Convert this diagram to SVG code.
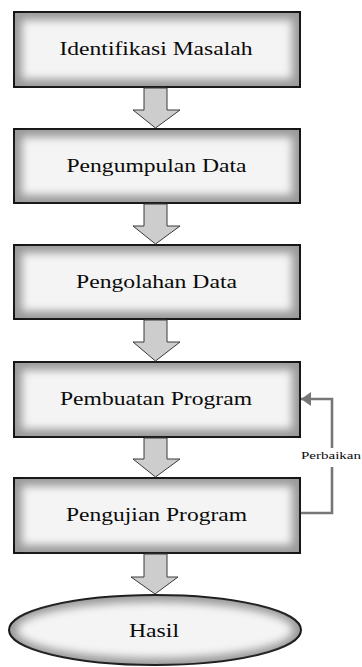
<svg xmlns="http://www.w3.org/2000/svg" width="362" height="667" viewBox="0 0 362 667">
  <defs>
    <filter id="soft" x="-10%" y="-30%" width="120%" height="160%">
      <feGaussianBlur stdDeviation="4.5"/>
    </filter>
    <marker id="tip" viewBox="0 0 10 14" refX="10" refY="7" markerWidth="10" markerHeight="14" markerUnits="userSpaceOnUse" orient="auto">
      <path d="M0,0 L10,7 L0,14 z" fill="#777"/>
    </marker>
  </defs>
  <style>
    .frame { fill: #9a9a9a; stroke: #141414; stroke-width: 2; }
    .face { fill: #f4f4f4; filter: url(#soft); }
    .label { font-family: "Liberation Serif", "Times New Roman", serif; font-size: 18px; fill: #0a0a0a; text-anchor: middle; }
    .flow { fill: #cdcdcd; stroke: #3a3a3a; stroke-width: 1; }
    .loop { fill: none; stroke: #777; stroke-width: 2.6; }
    .note { font-family: "Liberation Serif", "Times New Roman", serif; font-size: 11px; fill: #0a0a0a; }
  </style>
  <rect width="362" height="667" fill="#fff"/>

  <g id="identifikasi">
    <rect class="frame" x="14" y="12" width="286" height="75"/>
    <rect class="face" x="22" y="20" width="270" height="59"/>
    <text class="label" x="156" y="55" textLength="193" lengthAdjust="spacingAndGlyphs">Identifikasi Masalah</text>
  </g>
  <g id="pengumpulan">
    <rect class="frame" x="14" y="129" width="286" height="74"/>
    <rect class="face" x="22" y="137" width="270" height="58"/>
    <text class="label" x="156.5" y="172" textLength="180" lengthAdjust="spacingAndGlyphs">Pengumpulan Data</text>
  </g>
  <g id="pengolahan">
    <rect class="frame" x="14" y="245" width="286" height="74"/>
    <rect class="face" x="22" y="253" width="270" height="58"/>
    <text class="label" x="156.5" y="288" textLength="161" lengthAdjust="spacingAndGlyphs">Pengolahan Data</text>
  </g>
  <g id="pembuatan">
    <rect class="frame" x="14" y="362" width="286" height="75"/>
    <rect class="face" x="22" y="370" width="270" height="59"/>
    <text class="label" x="156" y="405" textLength="192" lengthAdjust="spacingAndGlyphs">Pembuatan Program</text>
  </g>
  <g id="pengujian">
    <rect class="frame" x="14" y="478" width="286" height="75"/>
    <rect class="face" x="22" y="486" width="270" height="59"/>
    <text class="label" x="156.5" y="521" textLength="181" lengthAdjust="spacingAndGlyphs">Pengujian Program</text>
  </g>
  <g id="hasil">
    <ellipse class="frame" cx="155" cy="630" rx="146" ry="35"/>
    <ellipse class="face" cx="155" cy="630" rx="138" ry="28"/>
    <text class="label" x="154" y="637" textLength="50" lengthAdjust="spacingAndGlyphs">Hasil</text>
  </g>

  <g id="connectors">
    <path class="flow" d="M144,88 L167,88 L167,110 L180,110 L155.5,128 L133,110 L144,110 z"/>
    <path class="flow" d="M144,204 L167,204 L167,226 L180,226 L155.5,244 L133,226 L144,226 z"/>
    <path class="flow" d="M144,320 L167,320 L167,342 L180,342 L155.5,361 L133,342 L144,342 z"/>
    <path class="flow" d="M144,438 L167,438 L167,459 L180,459 L155.5,477 L133,459 L144,459 z"/>
    <path class="flow" d="M144,554 L167,554 L167,577 L178,577 L155,594 L131,577 L144,577 z"/>
    <polyline class="loop" points="301,513 332,513 332,399 301,399" marker-end="url(#tip)"/>
    <rect x="301" y="448" width="61" height="19" fill="#fff"/>
    <text class="note" x="301" y="459" textLength="60" lengthAdjust="spacingAndGlyphs">Perbaikan</text>
  </g>
</svg>
